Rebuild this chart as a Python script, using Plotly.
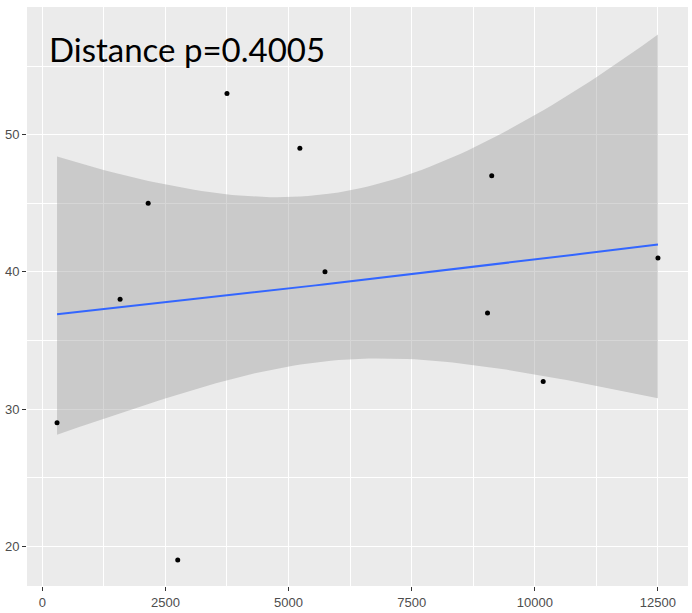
import numpy as np
import plotly.graph_objects as go

# Data
distance = [300, 1580, 2150, 2750, 3750, 5230, 5740, 9040, 9125, 10170, 12500]
value = [29, 38, 45, 19, 53, 49, 40, 37, 47, 32, 41]
x_ticks = [0, 2500, 5000, 7500, 10000, 12500]
x_tick_text = ["0", "2500", "5000", "7500", "10000", "12500"]
y_ticks = [20, 30, 40, 50]
title_text = "Distance p=0.4005"

# Log-link GLM (quasi-poisson) smooth with 95% band, as geom_smooth(method="glm")
x = np.array(distance, dtype=float)
y = np.array(value, dtype=float)
n = len(x)
X = np.column_stack([np.ones(n), x / 1000.0])
mu = y.copy()
eta = np.log(mu)
for _ in range(50):
    z = eta + (y - mu) / mu
    w = mu  # poisson working weights
    XtW = X.T * w
    beta = np.linalg.solve(XtW @ X, XtW @ z)
    eta = X @ beta
    mu = np.exp(eta)
phi = np.sum((y - mu) ** 2 / mu) / (n - 2)
cov = phi * np.linalg.inv((X.T * mu) @ X)
xs = np.linspace(x.min(), x.max(), 80)
Xs = np.column_stack([np.ones(len(xs)), xs / 1000.0])
eta_s = Xs @ beta
se = np.sqrt(np.einsum("ij,jk,ik->i", Xs, cov, Xs))
zq = 1.959964
ys = np.exp(eta_s)
upper = np.exp(eta_s + zq * se)
lower = np.exp(eta_s - zq * se)

fig = go.Figure()
fig.add_trace(go.Scatter(
    x=np.concatenate([xs, xs[::-1]]),
    y=np.concatenate([upper, lower[::-1]]),
    fill="toself", fillcolor="rgba(153,153,153,0.4)",
    line=dict(width=0), mode="lines", hoverinfo="skip", showlegend=False))
fig.add_trace(go.Scatter(x=xs, y=ys, mode="lines",
                         line=dict(color="#3366FF", width=2), showlegend=False))
fig.add_trace(go.Scatter(x=distance, y=value, mode="markers",
                         marker=dict(color="black", size=5), showlegend=False))

tick_font = dict(family="Liberation Sans Narrow, Liberation Sans, Arial", size=13, color="#4D4D4D")
fig.update_layout(
    width=692, height=613,
    margin=dict(l=27, r=4, t=7, b=27, autoexpand=False),
    paper_bgcolor="white", plot_bgcolor="#EBEBEB",
    showlegend=False,
    xaxis=dict(range=[-310, 13110], tickvals=x_ticks, ticktext=x_tick_text,
               ticks="outside", ticklen=4, automargin=False,
               tickcolor="#333333", tickfont=tick_font, showgrid=True,
               gridcolor="white", gridwidth=1.2, zeroline=False, showline=False,
               minor=dict(tick0=1250, dtick=2500, showgrid=True, gridcolor="white",
                          gridwidth=0.6, ticklen=0)),
    yaxis=dict(range=[17.1, 59.3], tickvals=y_ticks, ticks="outside", ticklen=4,
               automargin=False,
               tickcolor="#333333", tickfont=tick_font, showgrid=True,
               gridcolor="white", gridwidth=1.2, zeroline=False, showline=False,
               minor=dict(tick0=25, dtick=10, showgrid=True, gridcolor="white",
                          gridwidth=0.6, ticklen=0)),
    annotations=[dict(text=title_text, xref="paper", yref="paper",
                      x=0.03, y=0.965, xanchor="left", yanchor="top",
                      showarrow=False,
                      font=dict(family="Lato, Open Sans, sans-serif", size=33, color="black"))],
)
fig.write_html("out.html", config={"displayModeBar": False},
               post_script="document.body.style.margin='0';")
